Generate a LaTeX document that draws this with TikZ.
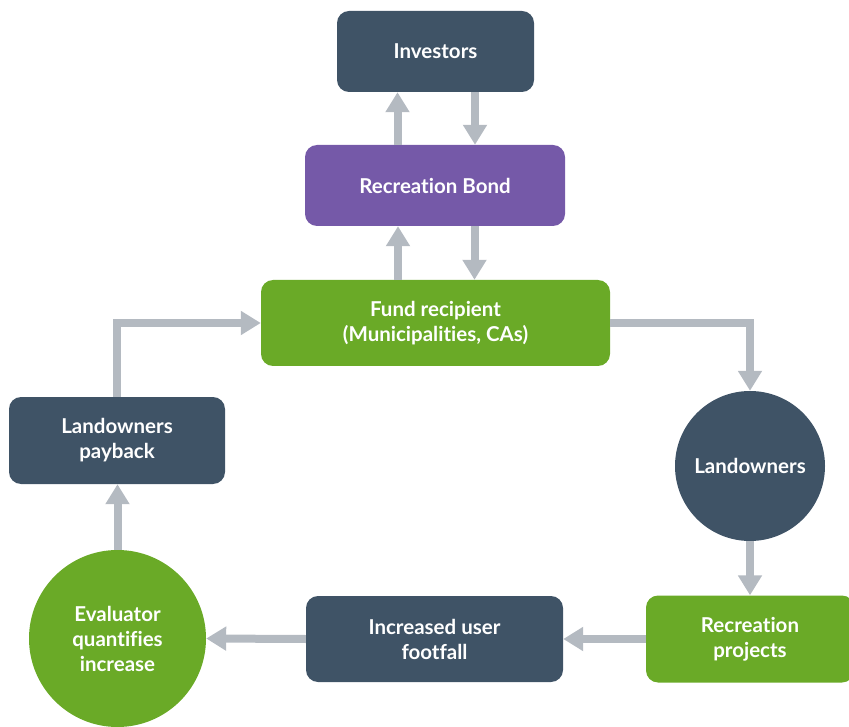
\documentclass[tikz,border=0pt]{standalone}
\usepackage{fontspec}
\setmainfont[Ligatures=NoCommon]{Lato}
\usetikzlibrary{arrows.meta,positioning}
\definecolor{slate}{HTML}{3F5366}
\definecolor{purp}{HTML}{7559A8}
\definecolor{grn}{HTML}{6AAA27}
\definecolor{arr}{HTML}{B4BAC1}
\tikzset{
  box/.style={rounded corners=12pt, text=white, font=\fontsize{20.5}{25}\selectfont\bfseries, align=center, inner sep=0pt},
  circ/.style={circle, text=white, font=\fontsize{20.5}{25}\selectfont\bfseries, align=center, inner sep=0pt},
  flow/.style={draw=arr, line width=8pt, -{Triangle[width=23pt,length=20pt]}},
}
\begin{document}
\begin{tikzpicture}[x=1pt,y=-1pt]
\useasboundingbox (0,0) rectangle (849,727);
\begin{scope}
\clip (0,0) rectangle (849,727);
\node[box, fill=slate, minimum width=197pt, minimum height=81pt] (inv) at (435.5,51.5) {Investors};
\node[box, fill=purp, minimum width=260pt, minimum height=81pt] (bond) at (435,185.5) {Recreation Bond};
\node[box, fill=grn, minimum width=349pt, minimum height=86pt] (fund) at (435.5,323) {Fund recipient\\(Municipalities, CAs)};
\node[box, fill=slate, minimum width=216pt, minimum height=87pt] (pay) at (117,440.5) {Landowners\\payback};
\node[circ, fill=slate, minimum size=150pt] (land) at (750,466) {Landowners};
\node[box, fill=grn, minimum width=208pt, minimum height=87pt] (proj) at (750,639) {Recreation\\projects};
\node[box, fill=slate, minimum width=257pt, minimum height=86pt] (foot) at (434.5,639) {Increased user\\footfall};
\node[circ, fill=grn, minimum size=177pt] (eval) at (117.5,638.5) {Evaluator\\quantifies\\increase};
\end{scope}
\draw[flow] ([xshift=-37.5pt]bond.north) -- ([xshift=-37.5pt]bond.north |- inv.south);
\draw[flow] ([xshift=39.5pt]inv.south) -- ([xshift=39.5pt]inv.south |- bond.north);
\draw[flow] ([xshift=-37.5pt]fund.north) -- ([xshift=-37.5pt]fund.north |- bond.south);
\draw[flow] ([xshift=39.5pt]bond.south) -- ([xshift=39.5pt]bond.south |- fund.north);
\draw[flow] (fund.east) -- (land.north |- fund.east) -- (land.north);
\draw[flow] (land.south) -- (land.south |- proj.north);
\draw[flow] (proj.west |- foot.east) -- (foot.east);
\draw[flow] (foot.west) -- (eval.east);
\draw[flow] (eval.north) -- (eval.north |- pay.south);
\draw[flow] (pay.north) -- (pay.north |- fund.west) -- (fund.west);
\end{tikzpicture}
\end{document}
